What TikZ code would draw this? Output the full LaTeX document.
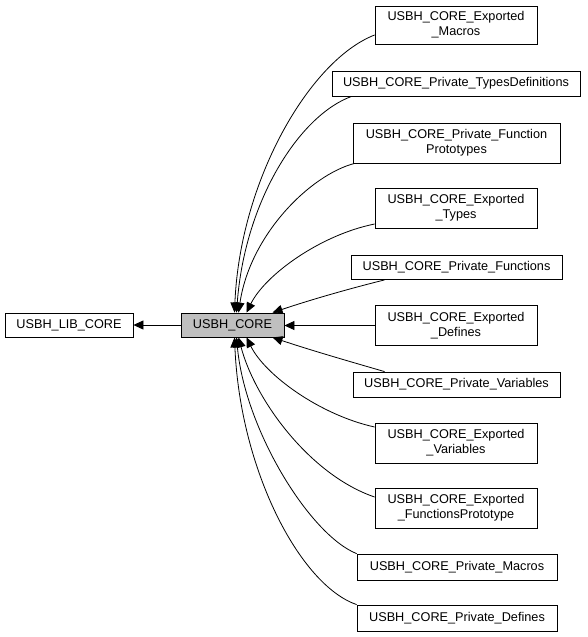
\documentclass[tikz,border=0pt]{standalone}
\usepackage{fontspec}
\setmainfont{Liberation Sans}
\usetikzlibrary{arrows.meta}
\begin{document}
\begin{tikzpicture}[x=1pt,y=-1pt,
  box/.style={draw=black, line width=0.8pt, fill=white, inner sep=0pt, align=center,
    font=\fontsize{12.7}{15}\selectfont},
  arr/.style={line width=0.8pt, -{Triangle[length=10pt,width=9pt]}}]
\useasboundingbox (0,0) rectangle (587,637);
\node[box, minimum width=128pt, minimum height=24pt] (lib) at (69,325) {USBH\_LIB\_CORE};
\node[box, fill=black!25, minimum width=103pt, minimum height=24pt] (core) at (232.5,325) {USBH\_CORE};
\node[box, minimum width=162pt, minimum height=38pt] (m1) at (456,25) {USBH\_CORE\_Exported\\\_Macros};
\node[box, minimum width=248pt, minimum height=25pt] (m2) at (456,83.5) {USBH\_CORE\_Private\_TypesDefinitions};
\node[box, minimum width=207pt, minimum height=40pt] (m3) at (456.5,143) {USBH\_CORE\_Private\_Function\\Prototypes};
\node[box, minimum width=162pt, minimum height=40pt] (m4) at (456,208) {USBH\_CORE\_Exported\\\_Types};
\node[box, minimum width=211pt, minimum height=24pt] (m5) at (456.5,267.5) {USBH\_CORE\_Private\_Functions};
\node[box, minimum width=162pt, minimum height=40pt] (m6) at (456,325.5) {USBH\_CORE\_Exported\\\_Defines};
\node[box, minimum width=207pt, minimum height=25pt] (m7) at (456.5,384.5) {USBH\_CORE\_Private\_Variables};
\node[box, minimum width=162pt, minimum height=40pt] (m8) at (456,443) {USBH\_CORE\_Exported\\\_Variables};
\node[box, minimum width=162pt, minimum height=40pt] (m9) at (456,508) {USBH\_CORE\_Exported\\\_FunctionsPrototype};
\node[box, minimum width=200pt, minimum height=26pt] (m10) at (457,567) {USBH\_CORE\_Private\_Macros};
\node[box, minimum width=200pt, minimum height=26pt] (m11) at (457,618) {USBH\_CORE\_Private\_Defines};
\draw[arr] (core.west) -- (lib.east);
\draw[arr] ([yshift=-10pt]m1.west) .. controls (310,60) and (240,180) .. ([xshift=2pt]core.north);
\draw[arr] ([xshift=20pt]m2.south west) .. controls (300,115) and (245,200) .. ([xshift=4pt]core.north);
\draw[arr] ([xshift=2pt]m3.south west) .. controls (310,175) and (250,235) .. ([xshift=6pt]core.north);
\draw[arr] ([yshift=-16pt]m4.west) .. controls (320,235) and (265,275) .. ([xshift=14pt]core.north);
\draw[arr] ([xshift=34pt]m5.south west) .. controls (348,289) and (310,300) .. ([xshift=40pt]core.north);
\draw[arr] (m6.west) -- (m6.west -| core.east);
\draw[arr] ([xshift=32pt]m7.north west) .. controls (348,361) and (310,350) .. ([xshift=40pt]core.south);
\draw[arr] ([yshift=16pt]m8.west) .. controls (320,415) and (265,375) .. ([xshift=14pt]core.south);
\draw[arr] ([yshift=11pt]m9.west) .. controls (310,475) and (255,400) .. ([xshift=6pt]core.south);
\draw[arr] (m10.north west) .. controls (310,535) and (245,430) .. ([xshift=4pt]core.south);
\draw[arr] (m11.north west) .. controls (300,585) and (240,470) .. ([xshift=2pt]core.south);
\end{tikzpicture}
\end{document}
